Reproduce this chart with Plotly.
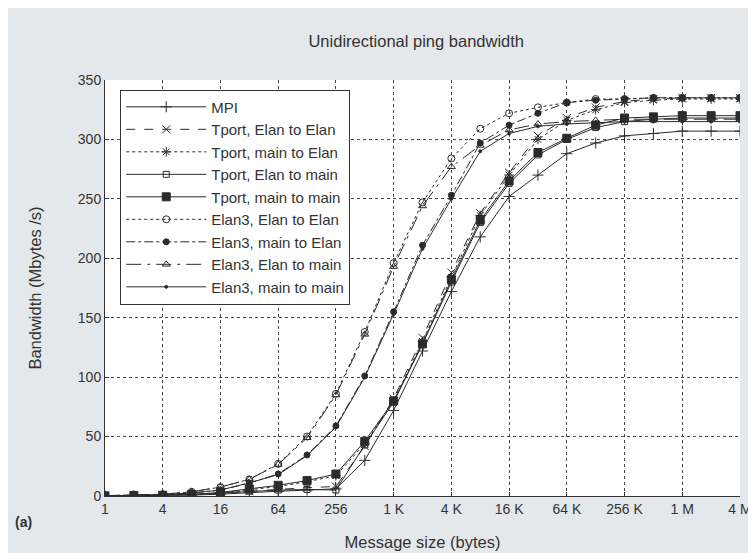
import plotly.graph_objects as go

sizes = [2 ** k for k in range(23)]

mpi = [0.1, 0.2, 0.4, 0.8, 1.5, 3, 4, 5, 6, 30, 72, 122, 172, 218, 252, 270, 288, 297, 303, 305, 307, 307, 307]
tport_e2e = [0.1, 0.3, 0.6, 1.2, 2.5, 4, 6, 7, 8, 42, 82, 133, 188, 238, 272, 303, 318, 327, 332, 334, 335, 335, 335]
tport_m2e = [0.1, 0.3, 0.6, 1.2, 2.5, 5, 8, 12, 17, 44, 80, 130, 184, 236, 270, 300, 316, 325, 331, 333, 334, 334, 334]
tport_e2m = [0.1, 0.3, 0.6, 1.2, 2.5, 4, 5, 5.5, 5, 43, 79, 128, 180, 230, 263, 287, 300, 310, 315, 317, 318, 318, 318]
tport_m2m = [0.1, 0.3, 0.6, 1.2, 3, 6, 9, 13, 18.5, 46, 80, 128, 182, 232, 265, 289, 301, 312, 318, 319, 320, 320, 320]
elan_e2e = [0.3, 0.7, 1.5, 3.5, 7.5, 14, 27, 50, 86, 138, 196, 247, 284, 309, 322, 327, 331, 334, 334, 335, 335, 335, 335]
elan_m2e = [0.2, 0.5, 1, 2.5, 5, 11, 18.5, 34.5, 59, 101, 155, 211, 253, 297, 312, 322, 331, 333, 334, 335, 335, 335, 335]
elan_e2m = [0.3, 0.7, 1.5, 3.5, 7.5, 14, 26.5, 49, 85, 136, 193, 244, 277, 295, 308, 313, 315, 316, 317, 317, 317, 317, 317]
elan_m2m = [0.2, 0.5, 1, 2.5, 5, 11, 18, 34, 58, 100, 153, 208, 250, 290, 305, 311, 313, 314, 315, 315, 315, 315, 315]

tick_vals = [2 ** k for k in range(0, 23, 2)]
tick_text = ["1", "4", "16", "64", "256", "1 K", "4 K", "16 K", "64 K", "256 K", "1 M", "4 M"]

series = [
    ("MPI", mpi, "solid", "cross-thin-open", 8),
    ("Tport, Elan to Elan", tport_e2e, "dash", "x-thin-open", 8),
    ("Tport, main to Elan", tport_m2e, "dot", "asterisk-open", 8),
    ("Tport, Elan to main", tport_e2m, "solid", "square-open", 6),
    ("Tport, main to main", tport_m2m, "solid", "square", 8),
    ("Elan3, Elan to Elan", elan_e2e, "dot", "circle-open", 7),
    ("Elan3, main to Elan", elan_m2e, "dashdot", "circle", 6),
    ("Elan3, Elan to main", elan_e2m, "longdashdot", "triangle-up-open", 7),
    ("Elan3, main to main", elan_m2m, "solid", "circle", 3),
]

ink = "#2b2b2b"
txt = "#333333"
fig = go.Figure()
for name, vals, dash, sym, size in series:
    fig.add_trace(go.Scatter(
        x=sizes, y=vals, name=name, mode="lines+markers",
        line=dict(color=ink, width=1, dash=dash),
        marker=dict(symbol=sym, size=size, color=ink, line=dict(color=ink, width=1)),
    ))

fig.update_layout(
    width=756, height=553,
    margin=dict(l=97, r=13, t=72, b=65),
    paper_bgcolor="#e5e8ea",
    plot_bgcolor="white",
    font=dict(family="Liberation Sans, Arial, sans-serif", size=14, color=txt),
    title=dict(text="Unidirectional ping bandwidth", x=0.54, xanchor="center", y=0.94, yanchor="middle",
               font=dict(size=16.5, color=txt)),
    showlegend=True,
    legend=dict(x=0.024, y=0.977, xanchor="left", yanchor="top",
                bgcolor="white", bordercolor=txt, borderwidth=1,
                font=dict(size=15, color=txt), tracegroupgap=0,
                itemwidth=80),
    xaxis=dict(type="log", range=[0, 6.6227], tickvals=tick_vals, ticktext=tick_text,
               showgrid=True, gridcolor="#444444", griddash="dot", gridwidth=1,
               showline=True, linecolor=txt, linewidth=1, mirror=False,
               ticks="inside", ticklen=4, tickcolor=txt, zeroline=False,
               tickfont=dict(size=14),
               title=dict(text="Message size (bytes)", standoff=20, font=dict(size=16.5))),
    yaxis=dict(range=[0, 350], tickvals=[0, 50, 100, 150, 200, 250, 300, 350],
               showgrid=True, gridcolor="#444444", griddash="dot", gridwidth=1,
               showline=True, linecolor=txt, linewidth=1, mirror=False,
               ticks="inside", ticklen=4, tickcolor=txt, zeroline=False,
               tickfont=dict(size=14),
               title=dict(text="Bandwidth (Mbytes /s)", standoff=32, font=dict(size=16.5))),
)

fig.add_annotation(text="<b>(a)</b>", xref="paper", yref="paper", x=-0.128, y=-0.062,
                   showarrow=False, font=dict(size=14, color=txt), xanchor="center", yanchor="middle")

fig.write_html("out.html")
